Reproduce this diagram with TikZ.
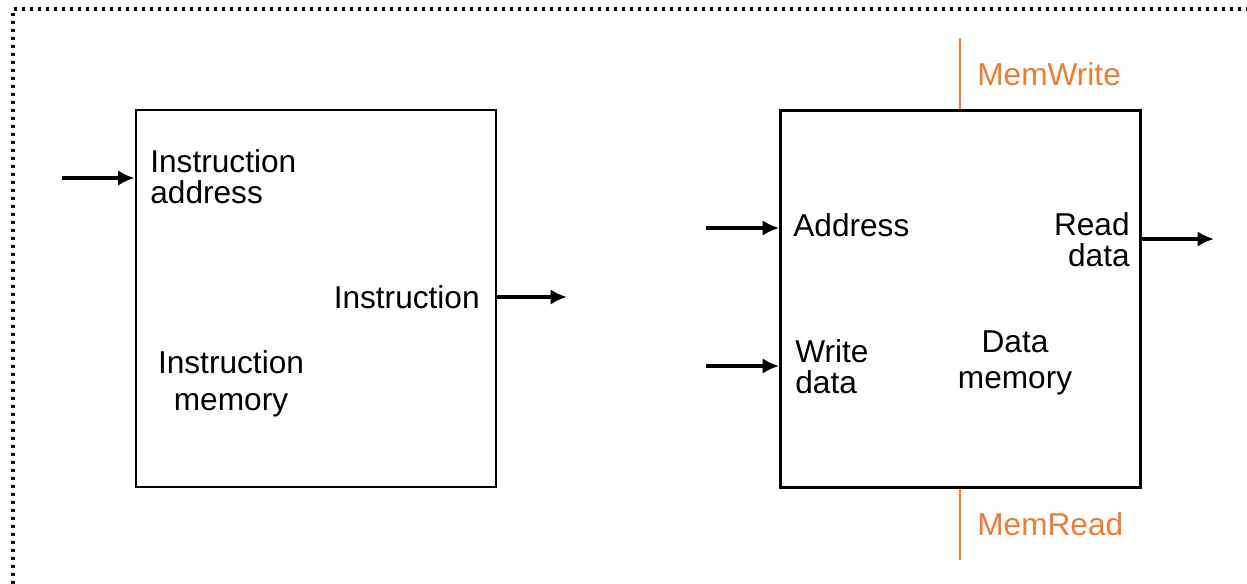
\documentclass[tikz,border=0pt]{standalone}
\usepackage{fontspec}
\setmainfont{Liberation Sans}
\usetikzlibrary{arrows.meta}
\definecolor{ctlorange}{RGB}{237,125,49}

\begin{document}
\begin{tikzpicture}[x=0.02cm,y=-0.02cm,
    font=\fontsize{18}{17.5}\selectfont,
    membox/.style={draw,line width=1.6pt,minimum width=7.2cm,minimum height=7.54cm},
    lbl/.style={inner sep=0pt,anchor=north west,align=left},
    sig/.style={-{Latex[length=0.33cm,width=0.31cm]},line width=2.3pt},
    ctl/.style={ctlorange,line width=1.4pt}]
    \useasboundingbox (0,0) rectangle (1247,584);
    \draw[line width=2.3pt,dash pattern=on 0.065cm off 0.095cm] (13,600) -- (13,9) -- (1260,9);

    % instruction memory
    \node[membox] (imem) at (316,298.5) {};
    \node[lbl] (iaddr) at (150,149) {Instruction\\address};
    \node[inner sep=0pt,anchor=east] (iout) at (480,297) {Instruction};
    \node[inner sep=0pt,anchor=north,align=center] (imemlbl) at (231,350) {Instruction\\[0.12cm]memory};
    \coordinate (ia src) at (62,178);
    \coordinate (io dst) at (567,297);
    \draw[sig] (ia src) -- (ia src -| imem.west);
    \draw[sig] (io dst -| imem.east) -- (io dst);

    % data memory
    \node[membox] (dmem) at (960.5,299) {};
    \node[inner sep=0pt,anchor=west] (daddr) at (793,225) {Address};
    \node[lbl] (wdata) at (795,339) {Write\\data};
    \node[inner sep=0pt,anchor=north east,align=right] (rdata) at (1130,212) {Read\\data};
    \node[inner sep=0pt,anchor=north,align=center] (dmemlbl) at (1015,330) {Data\\[0.12cm]memory};
    \coordinate (da src) at (706,228);
    \coordinate (wd src) at (706,366);
    \coordinate (rd dst) at (1214,239);
    \draw[sig] (da src) -- (da src -| dmem.west);
    \draw[sig] (wd src) -- (wd src -| dmem.west);
    \draw[sig] (rd dst -| dmem.east) -- (rd dst);

    % control signals
    \coordinate (mw top) at (960,38);
    \coordinate (mr bot) at (960,560);
    \draw[ctl] (mw top) -- (mw top |- dmem.north);
    \draw[ctl] (mr bot) -- (mr bot |- dmem.south);
    \node[inner sep=0pt,anchor=west,text=ctlorange] (mw) at (977,74) {MemWrite};
    \node[inner sep=0pt,anchor=west,text=ctlorange] (mr) at (977,524) {MemRead};
\end{tikzpicture}
\end{document}
